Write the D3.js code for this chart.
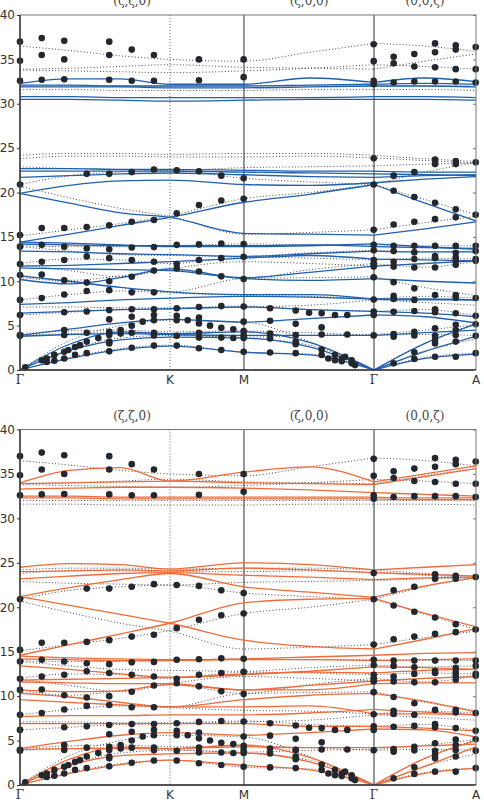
<!DOCTYPE html>
<html lang="en">
<head>
<meta charset="UTF-8">
<title>Phonon dispersion</title>
<script src="https://d3js.org/d3.v7.min.js"></script>
<style>
  body { margin: 0; background: #fff; }
</style>
</head>
<body>
<script>
    // path coordinate of the sample grid along Γ-K-M-Γ-A
    qGrid = [0, 0.33, 0.67, 1.0, 1.493, 1.93, 2.36, 2.7, 3.04]
    nodeQ = [0, 1.0, 1.493, 2.36, 3.04]
    nodeLabels = ["Γ", "K", "M", "Γ", "A"]
    dirLabels = ["(ζ,ζ,0)", "(ζ,0,0)", "(0,0,ζ)"]
    dirQ = [0.747, 1.927, 2.7]
    yTicks = [0, 5, 10, 15, 20, 25, 30, 35, 40]

    // model 1 (top panel, solid blue), energies at qGrid
    blueBands = [
        [32.3, 32.8, 32.8, 32.2, 32.2, 32.9, 32.4, 32.9, 32.5],
        [32.1, 32.1, 32.0, 32.0, 32.0, 32.1, 32.2, 32.3, 32.2],
        [31.9, 31.9, 31.9, 31.8, 31.8, 31.9, 32.0, 32.0, 31.9],
        [30.8, 30.8, 30.7, 30.7, 30.7, 30.7, 30.8, 30.8, 30.7],
        [30.5, 30.5, 30.4, 30.3, 30.4, 30.5, 30.5, 30.5, 30.4],
        [22.7, 22.7, 22.6, 22.6, 22.5, 22.4, 22.4, 22.3, 22.3],
        [22.4, 22.4, 22.4, 22.4, 22.3, 22.2, 22.1, 22.0, 21.9],
        [21.7, 21.9, 22.1, 22.2, 22.0, 21.8, 21.7, 21.9, 22.0],
        [19.9, 20.8, 21.3, 21.4, 20.9, 20.8, 21.1, 21.5, 21.8],
        [19.9, 18.8, 17.7, 17.2, 15.4, 15.3, 15.2, 15.9, 16.7],
        [14.4, 15.3, 16.3, 17.2, 18.9, 19.8, 20.9, 18.8, 16.8],
        [14.4, 14.3, 14.1, 13.9, 13.9, 14.0, 14.2, 13.9, 13.6],
        [14.2, 14.1, 14.0, 14.0, 14.0, 14.1, 13.9, 13.8, 13.7],
        [13.4, 13.3, 13.1, 13.0, 12.8, 13.1, 13.4, 13.3, 13.3],
        [11.7, 11.8, 12.0, 12.2, 12.6, 12.9, 12.5, 12.4, 12.3],
        [11.5, 11.4, 11.3, 11.2, 10.4, 11.0, 11.7, 12.0, 12.3],
        [10.6, 10.0, 9.3, 8.8, 8.5, 8.5, 8.0, 7.9, 7.9],
        [10.2, 9.7, 10.4, 11.4, 10.3, 10.1, 10.3, 10.0, 9.8],
        [7.4, 7.6, 7.9, 8.1, 8.3, 8.2, 8.0, 8.0, 7.9],
        [6.4, 6.6, 6.8, 6.9, 7.1, 6.8, 6.6, 6.4, 6.0],
        [3.9, 4.6, 5.3, 5.7, 5.4, 5.8, 6.2, 6.0, 5.3],
        [3.8, 4.0, 4.1, 4.0, 3.9, 3.9, 3.9, 4.2, 4.5],
        [0, 2.9, 4.3, 4.1, 4.3, 3.1, 0, 3.0, 5.2],
        [0, 2.2, 3.4, 3.7, 3.6, 2.6, 0, 2.1, 3.8],
        [0, 1.3, 2.3, 2.7, 2.0, 1.7, 0, 1.3, 1.8]
    ]

    // model 2 (bottom panel, solid orange)
    orangeBands = [
        [34.0, 35.4, 35.7, 34.2, 35.2, 35.8, 34.1, 35.0, 35.9],
        [33.9, 34.0, 34.1, 34.2, 34.0, 33.9, 33.8, 34.7, 35.6],
        [33.3, 33.4, 33.5, 33.5, 33.4, 33.2, 32.9, 32.7, 32.5],
        [32.5, 32.5, 32.4, 32.4, 32.4, 32.4, 32.4, 32.3, 32.3],
        [32.3, 32.3, 32.2, 32.2, 32.2, 32.2, 32.2, 32.1, 32.1],
        [24.5, 24.9, 24.8, 24.3, 25.0, 24.8, 24.2, 24.5, 24.8],
        [24.0, 24.1, 24.2, 24.1, 24.4, 24.2, 23.9, 23.7, 23.5],
        [23.2, 23.5, 23.8, 23.9, 23.6, 23.4, 23.1, 23.3, 23.4],
        [21.2, 22.2, 23.1, 23.8, 22.3, 21.7, 21.1, 22.4, 23.3],
        [21.2, 20.2, 19.2, 18.2, 16.3, 15.6, 15.3, 16.4, 17.6],
        [14.6, 15.8, 17.0, 18.2, 20.5, 20.9, 21.0, 19.3, 17.8],
        [14.5, 14.3, 14.2, 14.1, 14.2, 14.4, 14.6, 14.8, 14.9],
        [14.2, 14.1, 14.0, 14.0, 14.1, 14.1, 14.0, 14.1, 14.2],
        [13.4, 13.0, 12.5, 12.1, 12.4, 12.8, 13.3, 13.2, 13.0],
        [11.8, 11.9, 12.0, 12.1, 12.5, 12.7, 12.6, 12.9, 13.0],
        [11.6, 11.5, 11.4, 11.4, 10.7, 11.2, 11.7, 12.0, 12.2],
        [10.7, 10.5, 10.6, 11.3, 10.7, 10.7, 11.4, 11.5, 11.5],
        [10.3, 9.9, 9.3, 8.8, 9.6, 10.1, 10.3, 9.4, 8.2],
        [9.6, 9.3, 9.0, 8.8, 8.8, 8.9, 8.0, 8.0, 7.9],
        [7.7, 7.8, 7.8, 7.9, 7.9, 8.1, 8.5, 8.2, 7.9],
        [6.9, 6.9, 6.9, 6.9, 6.9, 6.6, 6.6, 6.4, 6.1],
        [4.1, 4.9, 5.6, 5.9, 5.6, 5.9, 6.3, 6.2, 5.4],
        [4.0, 4.1, 4.1, 4.1, 4.3, 4.2, 4.2, 4.4, 4.6],
        [0, 2.9, 4.3, 4.1, 4.5, 3.1, 0, 3.0, 5.0],
        [0, 2.2, 3.3, 3.5, 3.6, 2.6, 0, 2.1, 4.3],
        [0, 1.3, 2.3, 2.8, 2.2, 1.7, 0, 1.3, 1.9]
    ]

    // reference calculation (dotted, both panels)
    dottedBands = [
        [36.5, 36.0, 35.4, 35.0, 34.8, 35.8, 36.8, 36.5, 35.9],
        [33.9, 34.0, 34.2, 34.4, 34.1, 34.0, 33.9, 34.8, 35.6],
        [33.8, 33.7, 33.6, 33.5, 33.7, 34.0, 34.4, 34.2, 33.9],
        [32.0, 32.0, 32.0, 32.0, 32.0, 32.0, 32.0, 32.0, 32.0],
        [31.6, 31.6, 31.5, 31.5, 31.5, 31.6, 31.6, 31.6, 31.5],
        [24.2, 24.4, 24.4, 24.3, 24.4, 24.4, 24.2, 23.8, 23.5],
        [23.8, 24.1, 24.1, 24.0, 24.0, 24.1, 23.9, 23.6, 23.3],
        [22.9, 22.7, 22.6, 22.5, 22.8, 22.9, 23.0, 23.2, 23.3],
        [20.9, 21.9, 22.3, 22.5, 21.6, 21.2, 20.9, 22.3, 23.4],
        [20.7, 19.4, 18.2, 17.3, 15.3, 15.5, 15.8, 16.6, 17.3],
        [15.1, 15.8, 16.5, 17.4, 19.3, 20.0, 20.9, 19.2, 17.5],
        [14.0, 13.9, 13.9, 14.0, 14.2, 14.1, 14.1, 14.0, 14.0],
        [13.9, 13.4, 13.0, 12.9, 12.8, 13.2, 13.5, 13.3, 13.4],
        [12.0, 12.5, 12.4, 12.0, 12.7, 12.6, 12.4, 12.6, 12.5],
        [10.7, 10.1, 10.6, 11.3, 10.3, 11.3, 12.0, 11.6, 12.3],
        [11.9, 11.2, 10.5, 11.4, 12.2, 12.0, 11.7, 12.0, 12.3],
        [10.4, 9.9, 9.3, 8.8, 10.3, 10.4, 10.5, 9.3, 8.4],
        [7.9, 8.5, 8.9, 8.7, 8.4, 8.3, 8.0, 8.3, 8.1],
        [7.1, 7.1, 7.0, 7.0, 7.2, 6.8, 6.6, 6.8, 6.1],
        [6.2, 6.5, 6.8, 6.9, 7.1, 7.3, 7.9, 7.6, 7.3],
        [4.1, 4.4, 4.5, 4.3, 4.4, 4.2, 3.9, 4.0, 3.9],
        [3.9, 4.1, 4.2, 4.0, 3.7, 3.9, 4.0, 4.5, 5.1],
        [0, 3.3, 5.0, 5.6, 5.4, 3.2, 0, 3.0, 5.1],
        [0, 2.3, 3.6, 3.9, 3.6, 2.8, 0, 2.1, 3.5],
        [0, 1.4, 2.4, 2.8, 2.0, 1.8, 0, 1.4, 1.9]
    ]

    // measured points: [q, [energies]]
    dotCols = [
        [0.000, [37.0, 34.85, 32.6, 20.9, 15.2, 13.9, 11.95, 10.7, 7.9, 6.2, 3.95, 3.85]],
        [0.035, [0.3]],
        [0.145, [37.4, 35.5, 32.7, 16.0, 14.1, 12.2, 10.75, 8.1, 1.1]],
        [0.178, [1.3, 0.9]],
        [0.229, [1.7, 1.05]],
        [0.295, [37.1, 35.0, 32.75, 16.0, 13.9, 12.4, 10.1, 8.5, 6.5, 4.5, 3.95, 2.05, 1.3]],
        [0.322, [2.25]],
        [0.367, [2.6, 1.7]],
        [0.400, [2.8]],
        [0.445, [22.1, 16.1, 13.7, 12.8, 9.85, 8.9, 6.6, 4.2, 3.2, 1.9]],
        [0.522, [3.6]],
        [0.595, [37.0, 35.5, 32.7, 22.1, 16.3, 13.6, 12.6, 10.0, 9.0, 6.75, 5.7, 4.3, 3.95, 3.2, 3.0, 2.1]],
        [0.671, [4.5, 4.1]],
        [0.745, [36.1, 32.6, 22.3, 16.7, 13.8, 12.4, 10.5, 8.75, 6.85, 6.0, 5.0, 4.2, 2.5]],
        [0.818, [5.45]],
        [0.893, [35.5, 32.6, 22.6, 16.9, 13.85, 12.2, 11.2, 8.75, 6.85, 6.2, 5.6, 4.2, 3.9, 2.75]],
        [1.045, [22.5, 17.65, 14.1, 11.95, 11.45, 6.95, 6.1, 5.6, 3.85, 2.75]],
        [1.118, [5.6]],
        [1.193, [35.0, 32.65, 22.4, 18.6, 14.15, 12.4, 11.1, 7.1, 5.9, 5.25, 4.2, 3.65, 2.45]],
        [1.267, [5.0]],
        [1.342, [21.9, 19.1, 14.25, 12.6, 10.55, 7.2, 4.75, 3.65, 2.25]],
        [1.422, [4.6, 3.6]],
        [1.491, [35.0, 33.0, 21.6, 19.3, 14.2, 12.75, 10.25, 7.15, 5.45, 4.4, 3.95, 3.6, 2.05]],
        [1.667, [6.95, 5.55, 4.1, 3.55, 1.98]],
        [1.838, [6.7, 5.2, 3.95, 3.2, 2.9, 1.9]],
        [1.927, [6.45]],
        [2.011, [6.4, 4.8, 4.0, 2.3, 1.7]],
        [2.056, [1.3]],
        [2.100, [6.2, 1.7, 1.1]],
        [2.145, [1.3, 1.0]],
        [2.167, [1.5]],
        [2.182, [6.2, 4.0]],
        [2.211, [1.1, 0.75]],
        [2.233, [0.55]],
        [2.358, [36.7, 34.8, 32.6, 32.2, 23.85, 20.9, 15.8, 14.1, 13.5, 12.4, 12.0, 11.65, 10.45, 7.95, 6.6, 6.2, 3.9]],
        [2.491, [35.3, 34.55, 32.4, 21.9, 20.2, 16.4, 14.0, 13.4, 12.2, 11.65, 9.9, 8.35, 8.0, 6.55, 4.05, 3.75, 0.75]],
        [2.629, [35.6, 34.2, 32.5, 22.3, 19.5, 16.7, 14.0, 13.25, 12.5, 11.55, 9.2, 7.9, 6.65, 4.3, 3.9, 2.0, 1.25]],
        [2.767, [36.8, 35.8, 34.1, 32.5, 23.7, 23.2, 18.85, 17.0, 14.0, 12.85, 12.6, 11.55, 8.45, 6.85, 6.5, 4.7, 3.85, 3.4, 3.0, 1.5]],
        [2.905, [36.6, 36.1, 33.9, 32.5, 23.55, 23.2, 18.1, 17.2, 14.0, 13.2, 12.7, 12.3, 11.85, 8.45, 8.15, 6.4, 5.1, 4.5, 3.95, 3.2, 1.5]],
        [3.038, [36.4, 33.9, 32.4, 23.4, 17.5, 14.0, 13.4, 12.5, 12.3, 8.1, 6.1, 5.15, 3.85, 1.9]]
    ]

    // chart dimensions
    W = 484
    H = 804
    left = 20
    right = 476

    svg = d3.select("body")
        .append("svg")
        .attr("width", W)
        .attr("height", H)

    x = d3.scaleLinear()
        .domain([nodeQ[0], nodeQ[nodeQ.length - 1]])
        .range([left, right])

    dots = dotCols.flatMap(c => c[1].map(e => [c[0], e]))

    function drawPanel(id, top, bottom, bands, color) {
        y = d3.scaleLinear().domain([0, 40]).range([bottom, top])
        g = svg.append("g")

        g.append("clipPath").attr("id", "clip" + id)
            .append("rect")
            .attr("x", left).attr("y", top)
            .attr("width", right - left).attr("height", bottom - top)

        // K line dotted, M and Γ lines solid
        g.append("line")
            .attr("x1", x(nodeQ[1])).attr("x2", x(nodeQ[1]))
            .attr("y1", top).attr("y2", bottom)
            .attr("stroke", "#555").attr("stroke-width", 0.9)
            .attr("stroke-dasharray", "1,2")
        g.selectAll("line.sym")
            .data([nodeQ[2], nodeQ[3]])
            .join("line")
            .attr("class", "sym")
            .attr("x1", d => x(d)).attr("x2", d => x(d))
            .attr("y1", top).attr("y2", bottom)
            .attr("stroke", "#6a6a6a").attr("stroke-width", 1.4)

        line = d3.line()
            .x(d => x(d[0]))
            .y(d => y(d[1]))
            .curve(d3.curveMonotoneX)

        // split each band at the second Γ so the acoustic modes keep a cusp
        function pieces(b) {
            pts = qGrid.map((q, i) => [q, b[i]])
            return [pts.slice(0, 7), pts.slice(6)]
        }

        lines = g.append("g").attr("clip-path", "url(#clip" + id + ")")

        lines.selectAll("path.calc")
            .data(dottedBands.flatMap(pieces))
            .join("path")
            .attr("class", "calc")
            .attr("d", line)
            .attr("fill", "none")
            .attr("stroke", "#333")
            .attr("stroke-width", 0.9)
            .attr("stroke-dasharray", "1,2.2")

        lines.selectAll("path.model")
            .data(bands.flatMap(pieces))
            .join("path")
            .attr("class", "model")
            .attr("d", line)
            .attr("fill", "none")
            .attr("stroke", color)
            .attr("stroke-width", 1.3)

        g.selectAll("circle")
            .data(dots)
            .join("circle")
            .attr("cx", d => x(d[0]))
            .attr("cy", d => y(d[1]))
            .attr("r", 3.3)
            .attr("fill", "#23272e")

        // frame
        g.append("rect")
            .attr("x", left).attr("y", top)
            .attr("width", right - left).attr("height", bottom - top)
            .attr("fill", "none").attr("stroke", "#777").attr("stroke-width", 1)
        g.append("path")
            .attr("d", "M" + left + "," + top + "V" + bottom + "H" + right)
            .attr("fill", "none").attr("stroke", "#333").attr("stroke-width", 1.4)

        // y axis (outer ticks left, inner ticks right)
        yAxis = g.append("g")
            .attr("transform", "translate(" + left + ",0)")
            .call(d3.axisLeft(y).tickValues(yTicks).tickSize(3).tickPadding(2))
        yAxis.select(".domain").remove()
        yAxis.selectAll("text")
            .attr("font-family", "DejaVu Sans").attr("font-size", 12).attr("fill", "#333")
        yAxis.selectAll("line").attr("stroke", "#333")

        g.append("g")
            .attr("transform", "translate(" + right + ",0)")
            .call(d3.axisLeft(y).tickValues(yTicks).tickSize(3).tickFormat(""))
            .call(a => a.select(".domain").remove())
            .selectAll("line").attr("stroke", "#777")

        // x labels
        g.selectAll("text.node")
            .data(nodeLabels)
            .join("text")
            .attr("class", "node")
            .attr("x", (d, i) => x(nodeQ[i]))
            .attr("y", bottom + 14)
            .attr("text-anchor", "middle")
            .attr("font-family", d => d == "Γ" ? "DejaVu Serif" : "DejaVu Sans")
            .attr("font-size", 12)
            .attr("fill", "#333")
            .text(d => d)

        // direction labels above the frame
        g.selectAll("text.dir")
            .data(dirLabels)
            .join("text")
            .attr("class", "dir")
            .attr("x", (d, i) => x(dirQ[i]))
            .attr("y", top - 10)
            .attr("text-anchor", "middle")
            .attr("font-family", "DejaVu Serif")
            .attr("font-size", 12)
            .attr("fill", "#444")
            .text(d => d)
    }

    drawPanel("a", 15, 370, blueBands, "#2160ad")
    drawPanel("b", 429.5, 785, orangeBands, "#ef6b3a")
</script>
</body>
</html>
